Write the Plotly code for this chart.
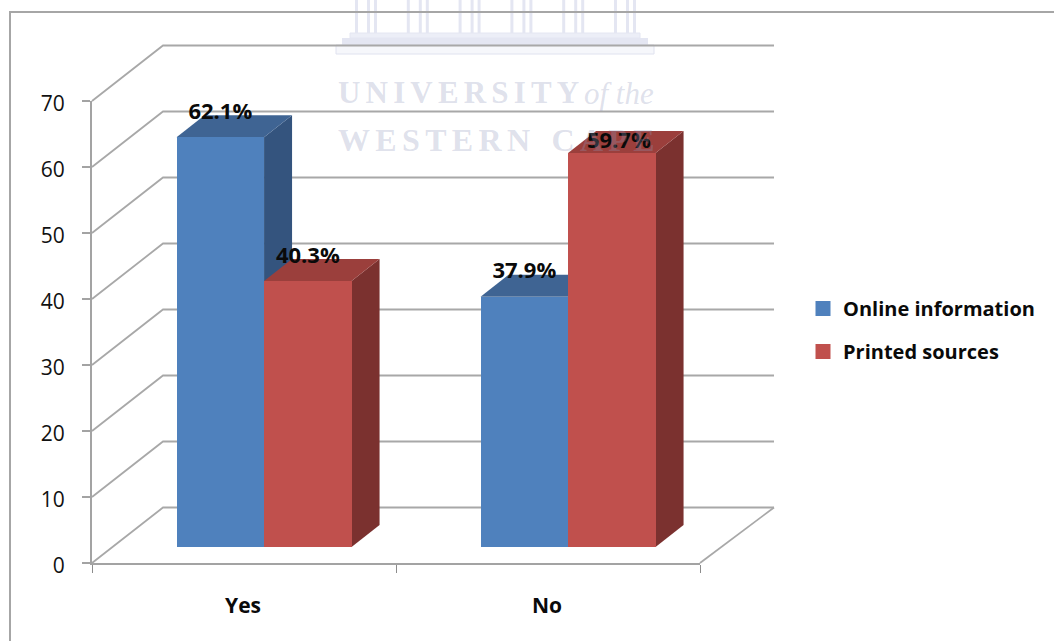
import plotly.graph_objects as go

W, H = 1054, 641

categories = ["Yes", "No"]
online_information = [62.1, 37.9]
printed_sources = [40.3, 59.7]
y_ticks = [0, 10, 20, 30, 40, 50, 60, 70]

# plot box in pixels
X0, X1, Y0, Y70 = 92, 700, 563, 101
UX = (X1 - X0) / 2
UY = (Y0 - Y70) / 70
# depth of walls / bars, in axis units
WALL_DX, WALL_DX_R, WALL_DY = 71 / UX, 74 / UX, 55.5 / UY
BAR_DX, BAR_DY = 28 / UX, 22 / UY
BASE = 16 / UY
BAR_W = 87.5 / UX
GROUP_SHIFT = 0.066

BLUE, BLUE_TOP, BLUE_SIDE = "#4F81BD", "#3F6493", "#34547E"
RED, RED_TOP, RED_SIDE = "#C0504D", "#9B3F3C", "#7B312F"
GRID = "#A8A8A8"
FULL_X = [-X0 / UX, (W - X0) / UX]
FULL_Y = [(Y0 - H) / UY, Y0 / UY]


def px(x):
    return x / W


def py(y):
    return 1 - y / H


fig = go.Figure()

# legend entries sit on the visible axis pair
for name, col in [("Online information", BLUE), ("Printed sources", RED)]:
    fig.add_trace(go.Scatter(
        x=[None], y=[None], mode="markers", name=name, legendgroup=name,
        marker=dict(symbol="square", size=15, color=col)))

# walls and gridlines
for v in y_ticks:
    fig.add_trace(go.Scatter(
        x=[0, WALL_DX, 2 + WALL_DX_R], y=[v, v + WALL_DY, v + WALL_DY],
        mode="lines", line=dict(color=GRID, width=1.8), xaxis="x2", yaxis="y2",
        showlegend=False, hoverinfo="skip"))
fig.add_trace(go.Scatter(
    x=[2, 2 + WALL_DX_R], y=[0, WALL_DY], mode="lines",
    line=dict(color=GRID, width=1.8), xaxis="x2", yaxis="y2",
    showlegend=False, hoverinfo="skip"))


def faces(left, value, top_col, side_col):
    right = left + BAR_W
    top = BASE + value
    fig.add_trace(go.Scatter(
        x=[right, right + BAR_DX, right + BAR_DX, right, right],
        y=[BASE, BASE + BAR_DY, top + BAR_DY, top, BASE],
        mode="lines", fill="toself", fillcolor=side_col,
        line=dict(width=0, color=side_col), xaxis="x2", yaxis="y2",
        showlegend=False, hoverinfo="skip"))
    fig.add_trace(go.Scatter(
        x=[left, left + BAR_DX, right + BAR_DX, right, left],
        y=[top, top + BAR_DY, top + BAR_DY, top, top],
        mode="lines", fill="toself", fillcolor=top_col,
        line=dict(width=0, color=top_col), xaxis="x2", yaxis="y2",
        showlegend=False, hoverinfo="skip"))


for i in range(2):
    c = i + 0.5 + GROUP_SHIFT
    faces(c - BAR_W, online_information[i], BLUE_TOP, BLUE_SIDE)
    faces(c, printed_sources[i], RED_TOP, RED_SIDE)

# front faces on an overlaying axis pair, so they sit above the depth faces
centres = [i + 0.5 + GROUP_SHIFT for i in range(2)]
fig.add_trace(go.Bar(
    x=[c - BAR_W / 2 for c in centres], y=online_information, base=BASE, width=BAR_W,
    marker=dict(color=BLUE, line=dict(width=0)), xaxis="x3", yaxis="y3",
    showlegend=False, hoverinfo="skip"))
fig.add_trace(go.Bar(
    x=[c + BAR_W / 2 for c in centres], y=printed_sources, base=BASE, width=BAR_W,
    marker=dict(color=RED, line=dict(width=0)), xaxis="x3", yaxis="y3",
    showlegend=False, hoverinfo="skip"))

# data labels
label_x = [centres[0] - BAR_W / 2, centres[0] + BAR_W / 2,
           centres[1] - BAR_W / 2, centres[1] + BAR_W / 2 + 7 / UX]
label_v = [online_information[0], printed_sources[0],
           online_information[1], printed_sources[1]]
label_gap = [24, 24, 24, 10]
fig.add_trace(go.Scatter(
    x=label_x, y=[v + BASE + g / UY for v, g in zip(label_v, label_gap)],
    text=[f"{v}%" for v in label_v], mode="text", textposition="middle center",
    textfont=dict(family="Open Sans", size=22, color="#0a0a0a", weight="bold"),
    xaxis="x3", yaxis="y3", showlegend=False, hoverinfo="skip"))

# watermark: building
shapes = []


def rect(x0, y0, x1, y1, fill="#E4E6F2", line=None):
    shapes.append(dict(type="rect", xref="paper", yref="paper", layer="below",
                       x0=px(x0), x1=px(x1), y0=py(y0), y1=py(y1),
                       fillcolor=fill,
                       line=dict(color=line or fill, width=1 if line else 0)))


for g in range(6):
    gx = 355 + g * 51.8
    for off, w in [(0, 3), (12, 3), (19, 3)]:
        rect(gx + off, 0, gx + off + w, 33)
rect(350, 33, 640, 38, fill="#ECEEF7", line="#E4E6F2")
rect(342, 38, 648, 45, fill="#E4E6F2")
rect(336, 45, 654, 54, fill="#F6F7FB", line="#E0E2EF")

# chart frame
shapes.append(dict(type="rect", xref="paper", yref="paper", layer="below",
                   x0=px(10), x1=px(W + 20), y0=py(12), y1=py(H + 20),
                   line=dict(color="#A6A6A6", width=2)))

HS = "\u200a"
WM = "rgba(146,153,190,0.3)"
annotations = [
    dict(text=(HS * 2).join("UNIVERSITY"), x=px(336), y=py(92), xref="paper", yref="paper",
         xanchor="left", yanchor="middle", showarrow=False,
         font=dict(family="Liberation Serif", size=31, color=WM, weight="bold")),
    dict(text="of the", x=px(582), y=py(94), xref="paper", yref="paper",
         xanchor="left", yanchor="middle", showarrow=False,
         font=dict(family="Liberation Serif", size=31, color=WM, style="italic")),
    dict(text=(HS * 2).join("WESTERN") + "  " + HS * 2 + (HS * 2).join("CAPE"),
         x=px(336), y=py(140), xref="paper", yref="paper",
         xanchor="left", yanchor="middle", showarrow=False,
         font=dict(family="Liberation Serif", size=32, color=WM, weight="bold")),
]

hidden = dict(visible=False, showgrid=False, zeroline=False)

fig.update_layout(
    width=W, height=H, autosize=False,
    margin=dict(l=0, r=0, t=0, b=0, autoexpand=False),
    paper_bgcolor="white", plot_bgcolor="rgba(0,0,0,0)",
    barmode="overlay", bargap=0,
    shapes=shapes, annotations=annotations,
    xaxis=dict(
        domain=[px(X0), px(X1)], range=[0, 2], tickmode="array",
        tickvals=[0.5, 1.5], ticktext=categories, ticks="", showgrid=False,
        zeroline=False, showline=True, linecolor="#A3A3A3", linewidth=2,
        ticklabelstandoff=23, ticklabelshift=-1,
        tickfont=dict(family="Open Sans", size=21, color="#0a0a0a", weight="bold"),
        minor=dict(tickmode="array", tickvals=[0, 1, 2], ticks="outside", ticklen=8,
                   tickcolor="#8C8C8C", tickwidth=1, showgrid=False)),
    yaxis=dict(
        domain=[py(Y0), py(Y70)], range=[0, 70], tickmode="array", tickvals=y_ticks,
        ticks="outside", ticklen=8, tickcolor="#A3A3A3", tickwidth=2,
        showgrid=False, zeroline=False, showline=True, linecolor="#A3A3A3", linewidth=2,
        ticklabelstandoff=13, ticklabelshift=3,
        tickfont=dict(family="Open Sans", size=21, color="#111111")),
    xaxis2=dict(domain=[0, 1], range=FULL_X, anchor="y2", **hidden),
    yaxis2=dict(domain=[0, 1], range=FULL_Y, anchor="x2", **hidden),
    xaxis3=dict(domain=[0, 1], range=FULL_X, anchor="y3", overlaying="x2", **hidden),
    yaxis3=dict(domain=[0, 1], range=FULL_Y, anchor="x3", overlaying="y2", **hidden),
    legend=dict(x=px(803), y=py(289), xanchor="left", yanchor="top",
                traceorder="grouped", tracegroupgap=14, itemsizing="trace",
                itemwidth=30, bgcolor="rgba(0,0,0,0)",
                font=dict(family="Open Sans", size=20, color="#0a0a0a", weight="bold")),
)

fig.write_html("out.html", config=dict(displayModeBar=False),
               post_script="document.body.style.margin='0';document.body.style.overflow='hidden';")
